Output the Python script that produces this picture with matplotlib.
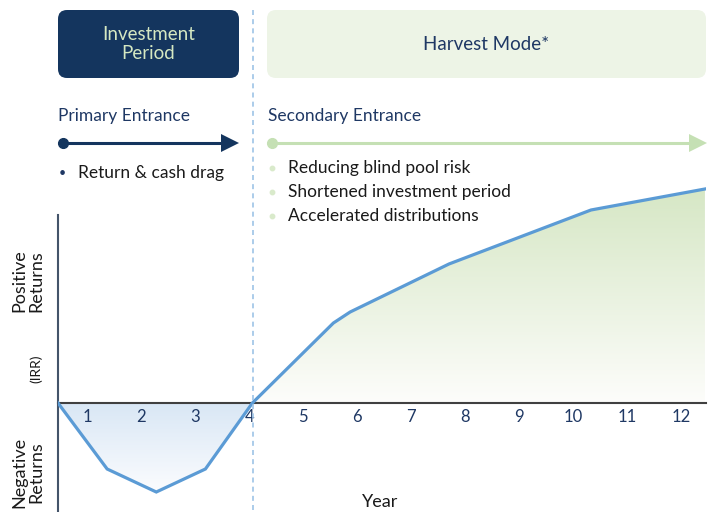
import numpy as np
import matplotlib
matplotlib.use("Agg")
import matplotlib.pyplot as plt
from matplotlib.patches import FancyBboxPatch
from matplotlib.colors import LinearSegmentedColormap

plt.rcParams['font.family'] = ['Lato', 'DejaVu Sans']

# J-curve data (year position, IRR in arbitrary units)
years = [0.46, 1.37, 2.28, 3.19, 4.06, 5.56, 5.87, 7.70, 10.33, 12.44]
irr = [0.0, -6.6, -8.9, -6.6, 0.0, 8.0, 9.1, 13.9, 19.3, 21.4]
tick_years = list(range(1, 13))
tick_labels = [str(t) for t in tick_years]

primary_bullets = ["Return & cash drag"]
secondary_bullets = ["Reducing blind pool risk", "Shortened investment period",
                     "Accelerated distributions"]

NAVY = "#14355e"
NAVY_TXT = "#1f3864"
LINE = "#5b9bd5"
GREEN = "#c5e0b4"

W, H = 712, 512
fig = plt.figure(figsize=(W / 100, H / 100), dpi=100)

# chart axes: x in years, y in IRR units
ax = fig.add_axes([58 / W, 0, (706 - 58) / W, 1])
ax.set_facecolor("none")

xs = np.array(years)
ys = np.array(irr)

# gradient fills under/over the curve
neg_cmap = LinearSegmentedColormap.from_list("neg", ["#fbfcfe", "#d9e7f5"])
pos_cmap = LinearSegmentedColormap.from_list("pos", ["#fdfdfb", "#d6e7c5"])
grad = np.linspace(0, 1, 256).reshape(-1, 1)

neg = ax.fill_between(xs, ys, 0, where=ys <= 0, interpolate=True, color="none", lw=0)
im = ax.imshow(grad, extent=(xs[0], 4.06, min(ys), 0), origin="lower",
               cmap=neg_cmap, aspect="auto", zorder=1)
im.set_clip_path(neg.get_paths()[0], transform=ax.transData)

pos = ax.fill_between(xs, ys, 0, where=ys >= 0, interpolate=True, color="none", lw=0)
pos_path = [p for p in pos.get_paths() if p.vertices[:, 0].max() > 5][0]
im2 = ax.imshow(grad, extent=(4.06, xs[-1], 0, max(ys)), origin="lower",
                cmap=pos_cmap, aspect="auto", zorder=1)
im2.set_clip_path(pos_path, transform=ax.transData)

ax.set_xlim(0.46, 12.46)
ax.set_ylim(-10.9, 40.3)

ax.plot(xs, ys, color=LINE, lw=2.3, zorder=3, solid_joinstyle="miter")

# axes styling
for s in ["top", "right"]:
    ax.spines[s].set_visible(False)
ax.spines["bottom"].set_position(("data", 0))
ax.spines["bottom"].set_color("#404040")
ax.spines["bottom"].set_linewidth(1.5)
ax.spines["bottom"].set_zorder(2)
ax.spines["left"].set_color("#44546a")
ax.spines["left"].set_linewidth(1.5)
ax.spines["left"].set_bounds(-10.9, 18.8)
ax.set_yticks([])
ax.set_xticks(tick_years)
ax.set_xticklabels(tick_labels, fontsize=12, color=NAVY_TXT)
ax.tick_params(axis="x", length=0, pad=4)

# overlay axes in pixel space for annotations
ov = fig.add_axes([0, 0, 1, 1])
ov.set_xlim(0, W)
ov.set_ylim(H, 0)
ov.axis("off")
ov.set_facecolor("none")

# dashed divider
ov.plot([253, 253], [10, H], color="#9dc3e6", lw=1.2, ls=(0, (3, 2.5)), zorder=0)

# phase boxes
ov.add_patch(FancyBboxPatch((58, 10), 181, 68, boxstyle="round,pad=0,rounding_size=9",
                            fc=NAVY, ec="none"))
ov.text(148.5, 44, "Investment\nPeriod", ha="center", va="center", fontsize=13.5,
        color="#d5e8c2", linespacing=1.15)
ov.add_patch(FancyBboxPatch((267, 10), 439, 68, boxstyle="round,pad=0,rounding_size=9",
                            fc="#edf4e6", ec="none"))
ov.text(486, 44, "Harvest Mode*", ha="center", va="center", fontsize=13.5, color=NAVY_TXT)

# entrance headers and arrows
ov.text(58, 116, "Primary Entrance", ha="left", va="center", fontsize=12.5, color=NAVY_TXT)
ov.text(268, 116, "Secondary Entrance", ha="left", va="center", fontsize=12.5, color=NAVY_TXT)

ov.plot([63, 222], [143, 143], color=NAVY, lw=2.2)
ov.plot(63, 143, "o", color=NAVY, ms=7)
ov.plot(230, 143, marker=">", color=NAVY, ms=13, mew=0)

ov.plot([272, 690], [143, 143], color=GREEN, lw=2.2)
ov.plot(272, 143, "o", color=GREEN, ms=7)
ov.plot(698, 143, marker=">", color=GREEN, ms=13, mew=0)

for i, txt in enumerate(primary_bullets):
    y = 173 + 24 * i
    ov.text(62, y, "•", ha="center", va="center", fontsize=9, color=NAVY_TXT)
    ov.text(78, y, txt, ha="left", va="center", fontsize=12.5, color="#1a1a1a")
for i, txt in enumerate(secondary_bullets):
    y = 168 + 24 * i
    ov.plot(272, y, "o", color="#d9eacb", ms=3.2)
    ov.text(288, y, txt, ha="left", va="center", fontsize=12.5, color="#1a1a1a")

# axis captions
ov.text(28, 281, "Positive\nReturns", rotation=90, ha="center", va="center",
        fontsize=13, color="#1a1a1a", linespacing=1.05)
ov.text(36, 369, "(IRR)", rotation=90, ha="center", va="center", fontsize=10, color="#1a1a1a")
ov.text(28, 472, "Negative\nReturns", rotation=90, ha="center", va="center",
        fontsize=13, color="#1a1a1a", linespacing=1.05)
ov.text(380, 502, "Year", ha="center", va="center", fontsize=13, color="#1a1a1a")

fig.savefig("out.png", dpi=100)
